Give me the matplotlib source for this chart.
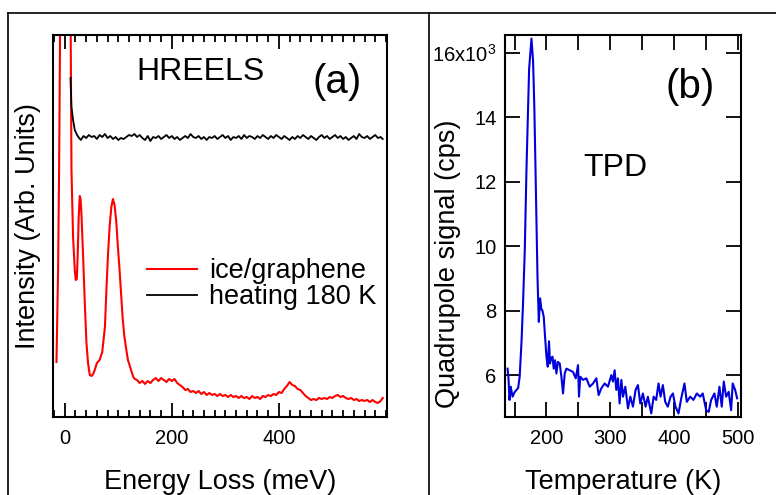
import numpy as np
import matplotlib
matplotlib.use("Agg")
import matplotlib.pyplot as plt
from matplotlib.lines import Line2D
from matplotlib.ticker import FixedLocator, MultipleLocator

plt.rcParams['font.family'] = ['Liberation Sans', 'DejaVu Sans']
plt.rcParams['mathtext.default'] = 'regular'

# ---- panel (a): HREELS, energy loss (meV) vs intensity (arb. units) ----
ice_e = [-15.5, -14, -12.5, -10.6, -8.5, -4, 0, 4, 8, 11, 12.5, 15.5, 18.7, 20.5,
         22.5, 24, 26, 28, 29.5, 31, 34, 37.4, 40.5, 43.5, 46.7, 50, 53, 56, 60,
         65, 70, 75, 78, 81, 84, 87, 90, 93, 96, 99, 102, 105, 108, 111, 115, 118,
         122, 125, 128, 131]
ice_i = [55, 100, 147, 247, 400, 1000, 1500, 1200, 700, 390, 247, 180, 147, 137,
         138, 160, 200, 221, 218, 205, 164, 114, 74, 54, 42, 41, 43, 47, 54,
         57, 65, 90, 130, 165, 192, 210, 218, 212, 197, 172, 150, 125, 100, 82, 67, 57,
         50, 45, 40, 38]
ice_tail_e = [135, 140, 145, 150, 155, 160, 165, 170, 175, 180, 185, 190, 195, 200,
              205, 210, 215, 220, 225, 230, 235, 240, 245, 250, 255, 260, 265, 270,
              275, 280, 285, 290, 295, 300, 305, 310, 315, 320, 325, 330, 335, 340,
              345, 350, 355, 360, 365, 370, 375, 380, 385, 390, 395, 400, 405, 410,
              415, 420, 425, 430, 435, 440, 445, 450, 455, 460, 465, 470, 475, 480,
              485, 490, 495, 500, 505, 510, 515, 520, 525, 530, 535, 540, 545, 550,
              555, 560, 565, 570, 575, 580, 585, 590, 594]
ice_tail_i = [37, 34, 36, 33, 36, 34, 37, 39, 36, 39, 37, 35, 38, 36,
              38, 34, 32, 30, 27, 28, 25, 26, 24, 26, 23, 25, 22, 24,
              22, 23, 21, 23, 21, 22, 20, 22, 20, 21, 19, 21, 19, 20,
              18, 21, 19, 20, 18, 21, 20, 22, 21, 23, 22, 25, 24, 28,
              31, 35, 32, 31, 28, 27, 24, 21, 19, 17, 18, 17, 19, 18,
              19, 18, 20, 19, 21, 22, 20, 21, 19, 18, 19, 17, 18, 16,
              17, 16, 17, 15, 17, 15, 14, 16, 19]

heat_e = [10.7, 12.5, 15.5, 18.7, 23, 26.7, 30, 35, 40, 45, 50, 55, 60, 65, 70, 75,
          80, 85, 90, 95, 100, 105, 110, 115, 120, 125, 130, 135, 140, 145, 150,
          155, 160, 165, 170, 175, 180, 185, 190, 195, 200, 205, 210, 215, 220,
          225, 230, 235, 240, 245, 250, 255, 260, 265, 270, 275, 280, 285, 290,
          295, 300, 305, 310, 315, 320, 325, 330, 335, 340, 345, 350, 355, 360,
          365, 370, 375, 380, 385, 390, 395, 400, 405, 410, 415, 420, 425, 430,
          435, 440, 445, 450, 455, 460, 465, 470, 475, 480, 485, 490, 495, 500,
          505, 510, 515, 520, 525, 530, 535, 540, 545, 550, 555, 560, 565, 570,
          575, 580, 585, 590, 594]
heat_i = [339, 310, 297, 287, 282, 279, 277, 281, 279, 282, 280, 281, 278, 282, 280, 283,
          279, 281, 278, 280, 277, 279, 278, 280, 282, 281, 283, 280, 282, 279, 277,
          281, 276, 280, 279, 281, 278, 280, 282, 279, 281, 278, 280, 277, 279,
          281, 279, 283, 280, 279, 281, 278, 280, 277, 280, 279, 281, 278, 280,
          282, 279, 281, 277, 280, 279, 281, 278, 282, 279, 281, 280, 278, 281,
          279, 282, 280, 278, 281, 279, 282, 280, 278, 281, 279, 277, 280, 278,
          281, 279, 282, 280, 278, 281, 279, 277, 280, 282, 279, 281, 278, 280,
          282, 279, 281, 278, 280, 277, 279, 281, 278, 283, 280, 279, 281, 278,
          280, 282, 279, 280, 278]

# ---- panel (b): TPD, temperature (K) vs quadrupole signal (x10^3 cps) ----
tpd_t = [139, 140.5, 142, 144, 146.8, 150.4, 155.6, 158, 161, 163.4, 166, 168.7,
         172.8, 176.5, 179, 181, 183, 186, 188, 190, 192, 193.7, 195.8, 197.8, 200,
         202, 204, 205.6, 207, 209.4, 211.4, 213.5, 215.6, 218, 220.8, 223.4, 226,
         228.6, 231.3, 236.5, 241.6, 245.9, 249.5, 251, 253, 257.3, 262.6, 267.8,
         273, 278.2, 281.8, 286, 291.2, 296.4, 301.7, 304.2, 306.9, 309.5, 312,
         314.7, 317.4, 320, 323.6, 327.8, 331.5, 335.6, 339.7, 343.4, 347.1, 351.2,
         355.4, 359, 364.3, 368, 372, 375.7, 378.9, 382.5, 386.2, 390.3, 394.6,
         398.2, 402.3, 407, 411.3, 416.4, 420, 425.3, 430.5, 435.7, 441, 445, 450.4,
         454.4, 458.2, 463.4, 467, 471.2, 474.8, 478, 481.7, 485.7, 489.5, 492,
         495.8, 498.9]
tpd_sig = [6.2, 5.9, 5.23, 5.64, 5.33, 5.48, 5.6, 5.95, 7.08, 8.3, 9.87, 12.4,
           15.5, 16.44, 15.75, 14.3, 12.2, 9.0, 7.65, 8.38, 8.05, 8.0, 7.8, 7.19, 6.57,
           6.26, 7.05, 6.36, 6.5, 6.57, 6.2, 6.46, 6.05, 6.41, 6.36, 5.95,
           5.43, 6.05, 6.2, 6.15, 6.1, 5.9, 6.31, 5.33, 5.95, 5.85, 5.9, 5.64,
           5.74, 5.9, 5.38, 5.59, 5.74, 5.64, 6.0, 5.8, 6.15, 5.54, 5.9,
           5.12, 5.85, 5.33, 5.64, 4.97, 5.33, 5.02, 5.54, 5.69, 5.12, 5.43,
           5.02, 5.33, 4.81, 5.33, 5.23, 5.74, 5.33, 5.69, 5.17, 5.02, 5.33,
           5.43, 5.02, 4.81, 5.28, 5.74, 5.17, 5.33, 5.23, 5.43, 5.33, 5.43, 4.91,
           4.86, 5.23, 5.43, 5.02, 5.64, 5.02, 5.8, 5.33, 5.48, 4.91, 5.74,
           5.54, 5.28]

tpd_xticks = [150, 200, 250, 300, 350, 400, 450, 500]
tpd_yticks = [6, 8, 10, 12, 14, 16]
tpd_ylabels = ['6', '8', '10', '12', '14', '16x10$^{3}$']

W, H = 776, 495
fig = plt.figure(figsize=(W / 100, H / 100), dpi=100)

# outer frame like the original figure box
frame = dict(color='black', lw=1.2, transform=fig.transFigure)
fig.add_artist(Line2D([8 / W, 8 / W], [0, 1 - 13 / H], **frame))
fig.add_artist(Line2D([8 / W, 1], [1 - 13 / H, 1 - 13 / H], **frame))
fig.add_artist(Line2D([429 / W, 429 / W], [0, 1 - 13 / H], **frame))

ax1 = fig.add_axes([53 / W, 1 - 417 / H, 334 / W, 382 / H])
ax2 = fig.add_axes([505 / W, 1 - 417 / H, 236 / W, 382 / H])

# panel (a)
ax1.plot(ice_e + ice_tail_e, ice_i + ice_tail_i, color='#ff0000', lw=1.5,
         label='ice/graphene')
ax1.plot(heat_e, heat_i, color='black', lw=1.3, label='heating 180 K')
ax1.set_xlim(-22, 602)
ax1.set_ylim(0, 382)
ax1.xaxis.set_major_locator(FixedLocator([0, 200, 400]))
ax1.xaxis.set_minor_locator(MultipleLocator(20))
ax1.tick_params(axis='x', which='both', direction='in', top=True, bottom=True,
                width=1.3, labelsize=14.5, pad=9)
ax1.tick_params(axis='x', which='major', length=10)
ax1.tick_params(axis='x', which='minor', length=5)
ax1.tick_params(axis='y', which='both', left=False, right=False, labelleft=False)
ax1.set_xlabel('Energy Loss (meV)', fontsize=19.5)
ax1.xaxis.set_label_coords(0.5, -0.137)
ax1.set_ylabel('Intensity (Arb. Units)', fontsize=19.5)
ax1.yaxis.set_label_coords(-0.036, 0.5)
ax1.text(0.443, 0.903, 'HREELS', transform=ax1.transAxes, fontsize=23,
         ha='center', va='center')
ax1.text(0.852, 0.877, '(a)', transform=ax1.transAxes, fontsize=29,
         ha='center', va='center')
ax1.legend(loc='center left', bbox_to_anchor=(0.281, 0.347), frameon=False,
           fontsize=19.5, handlelength=1.85, handletextpad=0.45,
           labelspacing=0.0, borderpad=0, borderaxespad=0)

# panel (b)
ax2.plot(tpd_t, tpd_sig, color='#0000dd', lw=1.5)
ax2.set_xlim(135, 505)
ax2.set_ylim(4.70, 16.55)
ax2.set_xticks(tpd_xticks)
ax2.set_xticklabels([str(t) if t % 100 == 0 else '' for t in tpd_xticks])
ax2.set_yticks(tpd_yticks)
ax2.set_yticklabels(tpd_ylabels)
ax2.tick_params(axis='both', which='major', direction='in', top=True, right=True,
                width=1.3, length=11, labelsize=14.5)
ax2.tick_params(axis='x', pad=9)
ax2.tick_params(axis='y', pad=6)
ax2.set_xlabel('Temperature (K)', fontsize=19.5)
ax2.xaxis.set_label_coords(0.5, -0.137)
ax2.set_ylabel('Quadrupole signal (cps)', fontsize=19.5)
ax2.yaxis.set_label_coords(-0.186, 0.402)
ax2.text(0.468, 0.651, 'TPD', transform=ax2.transAxes, fontsize=23,
         ha='center', va='center')
ax2.text(0.784, 0.863, '(b)', transform=ax2.transAxes, fontsize=29,
         ha='center', va='center')

for ax in (ax1, ax2):
    for sp in ax.spines.values():
        sp.set_linewidth(1.5)

fig.savefig('out.png', dpi=100)
